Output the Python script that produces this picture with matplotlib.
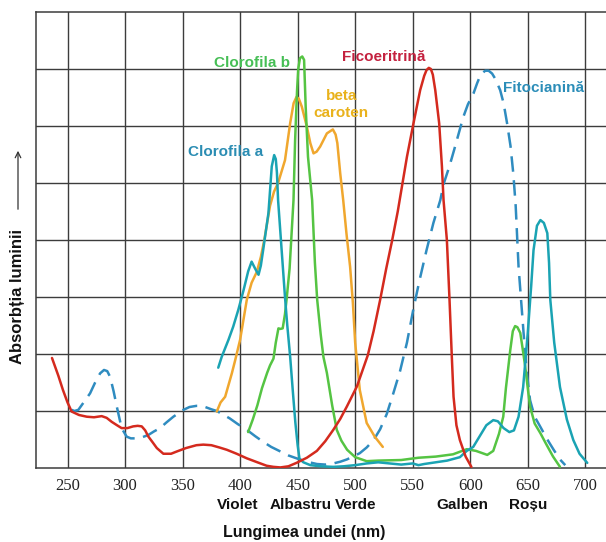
#!/usr/bin/env python3
"""Absorption spectra of photosynthetic pigments (recreated figure)."""

import matplotlib

matplotlib.use("Agg")

import matplotlib.pyplot as plt
from matplotlib.transforms import blended_transform_factory

# wavelength (nm) / absorption (grid units)
FICO_NM = [236.5, 242, 246, 250, 253.6, 260, 266.7, 273, 279.7, 284, 288.4, 293, 297, 302,
           307, 311, 314.5, 317.5, 320.3, 324, 327.6, 333.3, 340, 345, 353, 362, 368, 375,
           382, 388.4, 397, 405.8, 415, 423, 429, 435, 442, 449, 458, 466.7, 474, 481, 487,
           492.8, 501.5, 511, 516, 521.7, 527, 532, 537, 541, 545, 550.7, 556.5, 560, 562,
           564, 565.8, 567.5, 569.6, 573, 575.4, 576.8, 579.7, 582, 584, 585.5, 588, 591,
           596, 601]
FICO_ABS = [1.93, 1.62, 1.37, 1.15, 0.99, 0.93, 0.90, 0.89, 0.91, 0.88, 0.81, 0.75, 0.70,
            0.70, 0.73, 0.74, 0.73, 0.66, 0.55, 0.45, 0.35, 0.25, 0.25, 0.29, 0.35, 0.40,
            0.41, 0.40, 0.36, 0.32, 0.25, 0.17, 0.10, 0.04, 0.02, 0.01, 0.03, 0.09, 0.18,
            0.30, 0.47, 0.67, 0.86, 1.08, 1.43, 1.98, 2.40, 2.95, 3.50, 3.98, 4.50, 4.98,
            5.46, 6.05, 6.63, 6.88, 6.98, 7.02, 7.00, 6.90, 6.63, 6.05, 5.29, 4.70, 4.00,
            2.95, 1.95, 1.25, 0.75, 0.49, 0.20, 0.02]

FITO_NM = [253.6, 256, 259.4, 264, 269.6, 274, 278.3, 281.7, 284.5, 287, 290, 292.8, 297,
           301.4, 305, 310, 315, 320.3, 325, 330.4, 336, 342, 350.7, 356, 362, 367, 371,
           375, 379.7, 385, 391, 398, 405.8, 413, 420, 427, 435, 442, 449, 458, 466.7, 474,
           481, 487, 492.8, 498, 504, 510, 516, 521.7, 527.5, 533, 539, 545, 550.7, 556,
           562, 568, 574, 577, 582, 586, 590, 594, 598, 602.8, 606, 609, 613, 616, 619, 622,
           626, 629, 632, 635, 637.5, 639.5, 642, 646.4, 649, 652, 656, 661, 667, 672.5,
           678, 682.6]
FITO_ABS = [1.02, 1.00, 1.02, 1.15, 1.31, 1.50, 1.66, 1.72, 1.70, 1.60, 1.35, 1.08, 0.70,
            0.55, 0.52, 0.52, 0.54, 0.58, 0.64, 0.70, 0.80, 0.90, 1.02, 1.07, 1.09, 1.09,
            1.06, 1.03, 1.00, 0.94, 0.87, 0.77, 0.67, 0.56, 0.46, 0.37, 0.29, 0.22, 0.17,
            0.11, 0.07, 0.06, 0.08, 0.11, 0.15, 0.20, 0.26, 0.36, 0.49, 0.68, 0.95, 1.30,
            1.70, 2.20, 2.80, 3.30, 3.82, 4.30, 4.70, 4.99, 5.30, 5.58, 5.87, 6.16, 6.38,
            6.57, 6.75, 6.90, 6.97, 6.97, 6.92, 6.82, 6.63, 6.40, 6.05, 5.65, 5.15, 4.60,
            3.53, 2.36, 1.70, 1.19, 0.90, 0.72, 0.50, 0.32, 0.15, 0.05]

CHLA_NM = [381, 384, 389.9, 394, 398.5, 403, 407, 410, 413, 416, 418, 420, 424.6, 427.5,
           429.6, 431, 432, 433, 436, 439, 441, 443.5, 446, 448, 450, 451.6, 455, 461, 470,
           481, 490, 500, 510, 520, 530, 540, 550, 555, 560, 570, 580, 591, 597, 602.6, 608,
           614, 620, 624, 629, 634, 638, 642, 646, 650, 653, 655, 658, 661, 664, 667, 668.5,
           669.6, 673, 678, 684, 689.6, 695, 701.7]
CHLA_ABS = [1.76, 1.95, 2.25, 2.48, 2.78, 3.12, 3.45, 3.62, 3.50, 3.39, 3.55, 3.82, 4.47,
            5.29, 5.49, 5.42, 5.18, 4.70, 3.85, 3.00, 2.50, 1.95, 1.30, 0.80, 0.40, 0.16,
            0.10, 0.05, 0.03, 0.02, 0.03, 0.05, 0.08, 0.10, 0.08, 0.06, 0.08, 0.05, 0.07,
            0.10, 0.13, 0.19, 0.30, 0.37, 0.55, 0.75, 0.84, 0.82, 0.70, 0.63, 0.66, 0.90,
            1.42, 2.37, 3.20, 3.82, 4.25, 4.35, 4.30, 4.12, 3.60, 2.95, 2.20, 1.42, 0.85,
            0.49, 0.25, 0.09]

CHLB_NM = [407, 411, 415, 419, 423.5, 426, 429, 431, 433.3, 435, 437, 439, 440.6, 443,
           446.4, 447.8, 449.5, 450.5, 452, 454, 455.6, 457, 459, 462.6, 465, 467, 470,
           472.4, 475.4, 480, 484, 488, 493, 500, 510, 520, 540, 555, 570, 585, 597, 605,
           614.8, 620, 625, 628.7, 631, 634.8, 637, 639, 641, 643.5, 645.5, 647.8, 650, 652,
           656, 661, 666, 672, 678]
CHLB_ABS = [0.63, 0.85, 1.10, 1.40, 1.67, 1.80, 1.92, 2.20, 2.45, 2.44, 2.45, 2.70, 3.00,
            3.50, 4.70, 5.75, 6.63, 7.00, 7.19, 7.22, 7.16, 6.33, 5.46, 4.70, 3.60, 2.95,
            2.35, 1.95, 1.67, 1.10, 0.67, 0.48, 0.32, 0.19, 0.12, 0.13, 0.14, 0.18, 0.20,
            0.24, 0.33, 0.30, 0.23, 0.30, 0.60, 0.90, 1.40, 2.07, 2.40, 2.49, 2.47, 2.37,
            2.10, 1.78, 1.40, 1.08, 0.78, 0.61, 0.42, 0.20, 0.02]

BETA_NM = [379.7, 383, 387, 392.8, 395.7, 400, 405.8, 410, 414.5, 418, 421, 426, 429.5,
           433, 436, 439, 443.5, 446.5, 449, 451, 453.6, 458, 461, 463.8, 466.5, 469.6,
           475.4, 480.6, 483, 484.5, 487, 489.6, 492.5, 495.6, 498, 500, 504, 510, 517, 524]
BETA_ABS = [0.99, 1.15, 1.25, 1.66, 1.89, 2.25, 2.95, 3.25, 3.44, 3.70, 4.00, 4.60, 4.85,
            5.00, 5.20, 5.40, 6.05, 6.40, 6.51, 6.48, 6.34, 5.99, 5.70, 5.52, 5.55, 5.64,
            5.87, 5.94, 5.85, 5.70, 5.17, 4.70, 4.10, 3.53, 2.90, 2.20, 1.37, 0.79, 0.55,
            0.37]

XTICKS = [250, 300, 350, 400, 450, 500, 550, 600, 650, 700]
COLOR_NAMES = ["Violet", "Albastru", "Verde", "Galben", "Roșu"]
COLOR_NAME_NM = [398, 453, 500, 593, 650]

PIGMENT_LABELS = ["Clorofila b", "Ficoeritrină", "beta\ncaroten", "Clorofila a", "Fitocianină"]
PIGMENT_LABEL_NM = [410, 525, 488, 387, 664]
PIGMENT_LABEL_ABS = [7.1, 7.21, 6.38, 5.54, 6.66]
PIGMENT_LABEL_COLORS = ["#46be55", "#c4213f", "#e9b21c", "#2b8db3", "#2b8db8"]

RED = "#d42a1e"
TEAL = "#1aa3b3"
GREEN = "#55c443"
ORANGE = "#f0a72e"
BLUE = "#2f8cc0"


def main() -> None:
    fig = plt.figure(figsize=(6.06, 5.42), dpi=100)
    ax = fig.add_axes([36 / 606, 74 / 542, 570 / 606, 456 / 542])
    ax.set_xlim(222.6, 718)
    ax.set_ylim(0, 8)

    grid_kw = {"color": "#3c3c3c", "linewidth": 1.0, "zorder": 1}
    for x in XTICKS:
        ax.axvline(x, **grid_kw)
    for y in range(1, 8):
        ax.axhline(y, **grid_kw)

    for side in ["left", "top", "bottom"]:
        ax.spines[side].set_color("#3c3c3c")
        ax.spines[side].set_linewidth(1.1)
    ax.spines["right"].set_visible(False)

    line_kw = {"linewidth": 1.8, "zorder": 3, "solid_capstyle": "round"}
    ax.plot(FITO_NM, FITO_ABS, color=BLUE, linestyle=(0, (6.2, 3.4)), linewidth=1.8, zorder=3)
    ax.plot(BETA_NM, BETA_ABS, color=ORANGE, **line_kw)
    ax.plot(CHLB_NM, CHLB_ABS, color=GREEN, **line_kw)
    ax.plot(CHLA_NM, CHLA_ABS, color=TEAL, **line_kw)
    ax.plot(FICO_NM, FICO_ABS, color=RED, **line_kw)

    for text, x, y, color in zip(PIGMENT_LABELS, PIGMENT_LABEL_NM, PIGMENT_LABEL_ABS, PIGMENT_LABEL_COLORS):
        ax.text(x, y, text, color=color, fontsize=11, fontweight="bold", family="Liberation Sans",
                ha="center", va="center", linespacing=1.3, zorder=4)

    ax.set_xticks(XTICKS)
    ax.set_xticklabels([str(t) for t in XTICKS], family="Liberation Serif", fontsize=12, color="#222")
    ax.tick_params(axis="x", length=0, pad=7)
    ax.set_yticks([])

    trans = blended_transform_factory(ax.transData, fig.transFigure)
    for name, x in zip(COLOR_NAMES, COLOR_NAME_NM):
        ax.text(x, (542 - 505) / 542, name, transform=trans, ha="center", va="center",
                fontsize=11, fontweight="bold", family="Liberation Sans", color="#111")
    ax.text(456, (542 - 532) / 542, "Lungimea undei (nm)", transform=trans, ha="center",
            va="center", fontsize=11.5, fontweight="bold", family="Liberation Sans", color="#111")

    fig.text(18 / 606, (542 - 296) / 542, "Absorbția luminii", rotation=90, ha="center",
             va="center", fontsize=12, fontweight="bold", family="Liberation Sans", color="#111")
    fig.patches.append(matplotlib.patches.FancyArrowPatch(
        (18 / 606, (542 - 212) / 542), (18 / 606, (542 - 148) / 542),
        transform=fig.transFigure, arrowstyle="->", mutation_scale=10, color="#333", linewidth=0.9))

    fig.savefig("out.png", dpi=100)
    plt.close(fig)


if __name__ == "__main__":
    main()
